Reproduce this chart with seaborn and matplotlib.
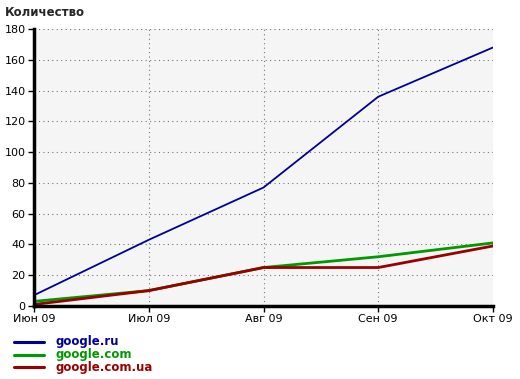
import matplotlib
matplotlib.use("Agg")
import matplotlib.pyplot as plt
import seaborn as sns
import pandas as pd

months = ["Июн 09", "Июл 09", "Авг 09", "Сен 09", "Окт 09"]
google_ru = [7, 43, 77, 136, 168]
google_com = [3, 10, 25, 32, 41]
google_com_ua = [1, 10, 25, 25, 39]
series_names = ["google.ru", "google.com", "google.com.ua"]
colors = ["#000099", "#009900", "#990000"]
y_ticks = list(range(0, 181, 20))

rows = []
for name, vals in zip(series_names, [google_ru, google_com, google_com_ua]):
    for i, v in enumerate(vals):
        rows.append({"x": i, "value": v, "series": name})
df = pd.DataFrame(rows)

sns.set_style("white")
plt.rcParams['font.family'] = ['DejaVu Sans']

fig = plt.figure(figsize=(5.2, 3.79), dpi=100)
ax = fig.add_axes([34/520, 1-306/379, (493-34)/520, (306-29)/379])
ax.set_facecolor("#f5f5f5")

sns.lineplot(data=df, x="x", y="value", hue="series", palette=colors,
             hue_order=series_names, ax=ax, legend=False)
for line, lw in zip(ax.lines, [1.3, 2.0, 2.0]):
    line.set_linewidth(lw)

ax.set_xlim(0, 4)
ax.set_ylim(0, 180)
ax.set_xticks(range(5))
ax.set_xticklabels(months)
ax.set_yticks(y_ticks)
ax.set_xlabel("")
ax.set_ylabel("")
ax.grid(True, linestyle=(0, (1, 3)), color="#777777", linewidth=0.8)
ax.set_axisbelow(True)
for s in ["top", "right"]:
    ax.spines[s].set_visible(False)
for s in ["left", "bottom"]:
    ax.spines[s].set_linewidth(2.5)
    ax.spines[s].set_color("black")
ax.tick_params(axis="both", direction="out", length=4, width=1, colors="black",
               labelsize=8, pad=2)
ax.tick_params(axis="both", left=True, bottom=True)

fig.text(5/520, 1-12/379, "Количество", fontsize=8.5, fontweight="bold",
         ha="left", va="center")

for i, (name, c) in enumerate(zip(series_names, colors)):
    yy = 1 - (342 + i*12.5)/379
    fig.add_artist(plt.Line2D([14/520, 44/520], [yy, yy], color=c, lw=2.2,
                              transform=fig.transFigure))
    fig.text(55/520, yy, name, color=c, fontsize=8.5, fontweight="bold",
             ha="left", va="center")

fig.savefig("out.png", dpi=100)
